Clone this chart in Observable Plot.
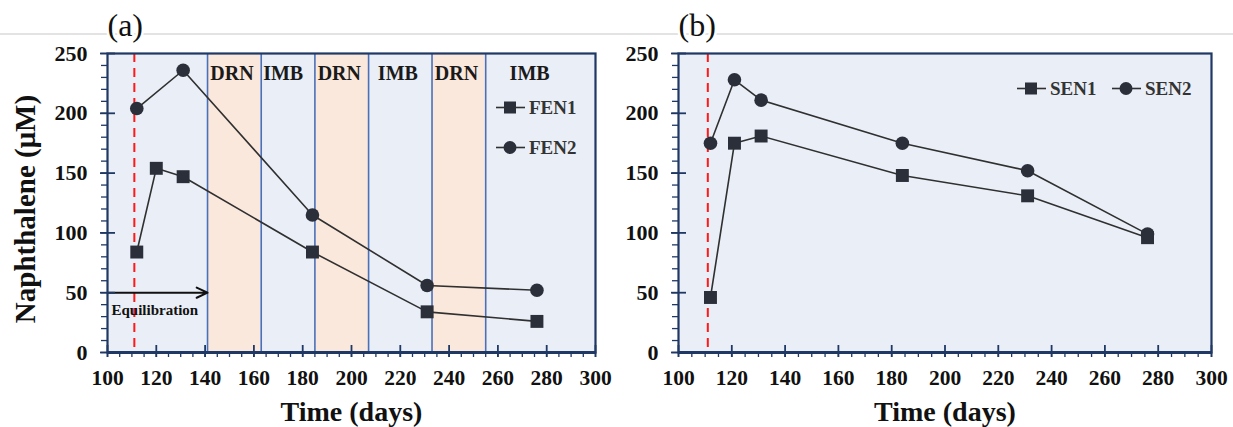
<!DOCTYPE html>
<html><head><meta charset="utf-8">
<script src="https://cdn.jsdelivr.net/npm/d3@7"></script>
<script src="https://cdn.jsdelivr.net/npm/@observablehq/plot@0.6"></script>
<style>
body{margin:0;background:#fff;width:1233px;height:427px;overflow:hidden;position:relative;font-family:"Liberation Serif","Times New Roman",serif}
#hr{position:absolute;left:0;top:33px;width:1233px;height:2px;background:#e3e3e3}
#a{position:absolute;left:0;top:0}
#b{position:absolute;left:625px;top:0}
.leg{position:absolute;display:flex;align-items:center;font-weight:bold;font-size:19px;color:#333;white-space:nowrap;line-height:1}
.leg svg{display:block;margin-right:4px}
</style></head>
<body>
<div id="hr"></div>
<div id="a"></div>
<div id="b"></div>
<script>
// ---------- data ----------
const xTicks = [100,120,140,160,180,200,220,240,260,280,300];
const yTicks = [0,50,100,150,200,250];
const startDay = 111;              // red dashed line (start of experiment)

// Panel (a)
const fen1Days = [112,120,131,184,231,276];
const fen1     = [84,154,147,84,34,26];
const fen2Days = [112,131,184,231,276];
const fen2     = [204,236,115,56,52];
const phaseStart = [100,141,163,185,207,233,255];
const phaseEnd   = [141,163,185,207,233,255,300];
const phaseType  = ["EQ","DRN","IMB","DRN","IMB","DRN","IMB"];
const phaseLabelDay = [null,151,172,195,219,243,273];
const equilEnd = 141;
const equilLevel = 50;
const equilTextLevel = 35;

// Panel (b)
const senDays = [112,121,131,184,231,276];
const sen1    = [46,175,181,148,131,96];
const sen2    = [175,228,211,175,152,99];

// ---------- style ----------
const BLUE = "#e9eef7", ORANGE = "#fbe8dc", NAVY = "#1f3864", SEP = "#4a70b8";
const MARK = "#2b2f3a", LINE = "#303030";
const FONT = "Liberation Serif";

const toRows = (xs, ys) => xs.map((x,i)=>({x, y: ys[i]}));
const phases = phaseStart.map((s,i)=>({start:s, end:phaseEnd[i], type:phaseType[i], lx: phaseLabelDay[i]}));

function axes(){
  return [
    Plot.axisY({ticks: d3.range(0,251,10), tickSize:6, text:null, stroke:NAVY, strokeWidth:1.3}),
    Plot.axisY({ticks: yTicks, tickSize:7, text:null, stroke:NAVY, strokeWidth:1.8}),
    Plot.axisY({ticks: yTicks, tickSize:8, dx:8, text:null, stroke:NAVY, strokeWidth:1.8}),
    Plot.axisY({ticks: yTicks, tickSize:0, tickPadding:20, fontSize:22, fontWeight:"bold", fill:"#111", fontFamily:FONT}),
    Plot.axisX({ticks: d3.range(100,301,5), tickSize:5, text:null, stroke:NAVY, strokeWidth:1.3}),
    Plot.axisX({ticks: xTicks, tickSize:5, text:null, stroke:NAVY, strokeWidth:1.8}),
    Plot.axisX({ticks: xTicks, tickSize:7, dy:-7, text:null, stroke:NAVY, strokeWidth:1.8}),
    Plot.axisX({ticks: xTicks, tickSize:0, tickPadding:17, fontSize:21.5, fontWeight:"bold", fill:"#111", fontFamily:FONT}),
  ];
}
function titles(tag, withY){
  const m = [
    Plot.text(["Time (days)"], {frameAnchor:"bottom", lineAnchor:"middle", dy:60, fontSize:28, fontWeight:"bold", fill:"#111", fontFamily:FONT}),
    Plot.text([tag], {frameAnchor:"top-left", lineAnchor:"middle", dy:-28, dx:0, textAnchor:"start", fontSize:32, fill:"#111", fontFamily:FONT, stroke:"white", strokeWidth:5, paintOrder:"stroke"})
  ];
  if (withY) m.push(Plot.text(["Naphthalene (\u03bcM)"], {frameAnchor:"left", textAnchor:"middle", lineAnchor:"middle", rotate:-90, dx:-82, dy:6, fontSize:29, fontWeight:"bold", fill:"#111", fontFamily:FONT}));
  return m;
}
function series(rows, symbol, r){
  return [
    Plot.line(rows, {x:"x", y:"y", stroke:LINE, strokeWidth:1.6}),
    Plot.dot(rows, {x:"x", y:"y", symbol, r, fill:MARK, stroke:"none"})
  ];
}

const common = {
  height: 427, marginTop: 53, marginBottom: 75,
  x: {domain:[100,300], label:null},
  y: {domain:[0,250], label:null},
  style: {background:"transparent", fontFamily: FONT}
};

const chartA = Plot.plot({
  ...common, width: 625, marginLeft: 107, marginRight: 30,
  marks: [
    Plot.frame({fill: BLUE}),
    Plot.rect(phases, {x1:"start", x2:"end", fill: d => d.type==="DRN" ? ORANGE : BLUE}),
    Plot.ruleX(phaseStart.slice(1), {stroke: SEP, strokeWidth:1.6}),
    Plot.ruleX([startDay], {stroke:"#ff1a1a", strokeWidth:2, strokeDasharray:"9,6"}),
    Plot.arrow([{x1:100, x2:equilEnd, y:equilLevel}], {x1:"x1", x2:"x2", y1:"y", y2:"y", stroke:"#111", strokeWidth:2, headLength:9, headAngle:50}),
    Plot.text(["Equilibration"], {x: () => 100, y: () => equilTextLevel, dx:4, textAnchor:"start", fontSize:15, fontWeight:"bold", fill:"#111", fontFamily:FONT}),
    Plot.text(phases.filter(d=>d.lx!=null), {x:"lx", frameAnchor:"top", lineAnchor:"middle", dy:20, text:"type", fontSize:20, fontWeight:"bold", fill:"#1a1a1a", fontFamily:FONT}),
    ...series(toRows(fen1Days, fen1), "square", 7.3),
    ...series(toRows(fen2Days, fen2), "circle", 6.8),
    Plot.frame({stroke: NAVY, strokeWidth: 2.2}),
    Plot.ruleY([0], {stroke: NAVY, strokeWidth: 3}),
    ...axes(),
    ...titles("(a)", true)
  ]
});
document.getElementById("a").append(chartA);

const chartB = Plot.plot({
  ...common, width: 608, marginLeft: 53, marginRight: 22,
  marks: [
    Plot.frame({fill: BLUE}),
    Plot.ruleX([startDay], {stroke:"#ff1a1a", strokeWidth:2, strokeDasharray:"9,6"}),
    ...series(toRows(senDays, sen1), "square", 7.3),
    ...series(toRows(senDays, sen2), "circle", 6.8),
    Plot.frame({stroke: NAVY, strokeWidth: 2.2}),
    Plot.ruleY([0], {stroke: NAVY, strokeWidth: 3}),
    ...axes(),
    ...titles("(b)", false)
  ]
});
document.getElementById("b").append(chartB);

// ---------- legends (HTML) ----------
function glyph(shape){
  const s = shape === "square"
    ? `<rect x="8" y="3.5" width="12" height="12" fill="${MARK}"/>`
    : `<circle cx="14" cy="9.5" r="6.5" fill="${MARK}"/>`;
  return `<svg width="29" height="19"><line x1="0" x2="29" y1="9.5" y2="9.5" stroke="${LINE}" stroke-width="1.6"/>${s}</svg>`;
}
function legendItem(label, shape, left, top){
  const d = document.createElement("div");
  d.className = "leg";
  d.style.left = left + "px"; d.style.top = (top - 10) + "px";
  d.innerHTML = glyph(shape) + `<span>${label}</span>`;
  document.body.append(d);
}
const legendA = [["FEN1","square"],["FEN2","circle"]];
const legendB = [["SEN1","square"],["SEN2","circle"]];
legendA.forEach(([l,s],i)=>legendItem(l, s, 496, 108 + i*40));
legendB.forEach(([l,s],i)=>legendItem(l, s, 1017 + i*95, 89));
</script>
</body></html>
